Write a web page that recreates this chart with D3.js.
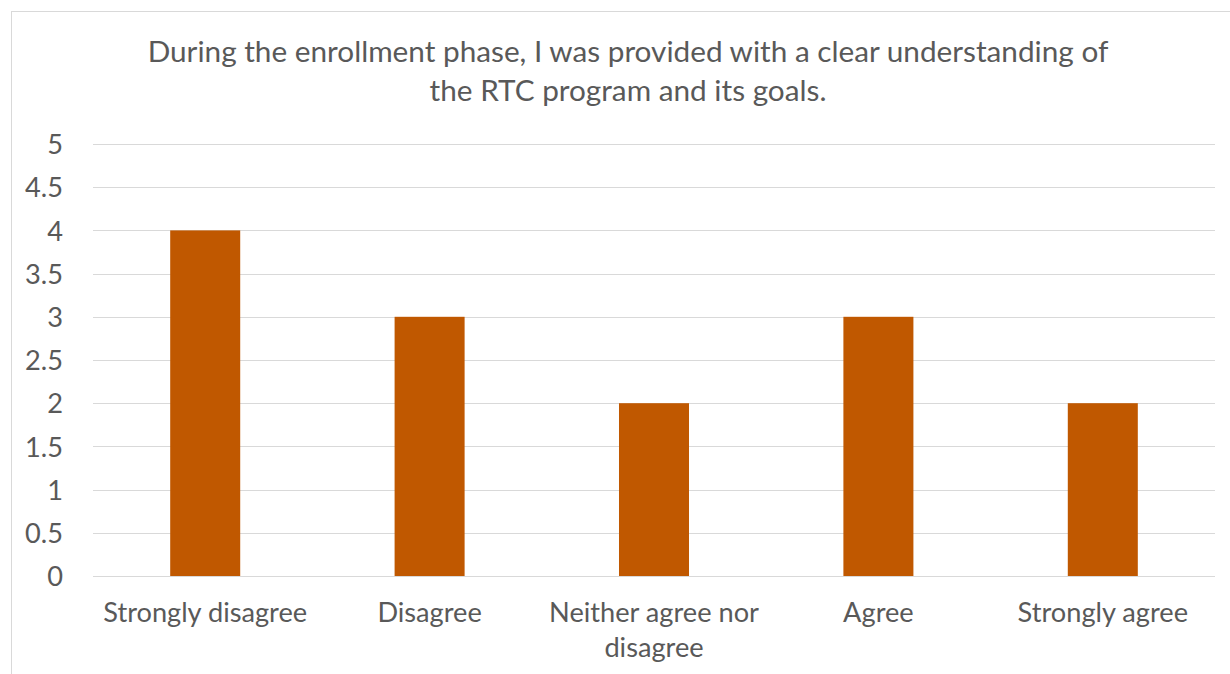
<!DOCTYPE html>
<html>
<head>
<meta charset="utf-8">
<script src="https://cdn.jsdelivr.net/npm/d3@7"></script>
<style>
  html, body { margin: 0; padding: 0; background: #fff; }
  svg { display: block; }
  text { font-family: Lato, "Open Sans", sans-serif; fill: #595959; }
</style>
</head>
<body>
<svg id="chart" width="1230" height="674"></svg>
<script>
// Survey responses: count per answer
const categories = ["Strongly disagree", "Disagree", "Neither agree nor disagree", "Agree", "Strongly agree"];
const counts = [4, 3, 2, 3, 2];
const yTicks = [0, 0.5, 1, 1.5, 2, 2.5, 3, 3.5, 4, 4.5, 5];
const titleLines = [
  "During the enrollment phase, I was provided with a clear understanding of",
  "the RTC program and its goals."
];

const svg = d3.select("#chart");
const W = 1230, H = 674;
const plot = { left: 93, right: 1215, top: 144, bottom: 576 };
const FONT = "Lato, 'Open Sans', sans-serif";

// Font size that makes a sample string span a given width
function fitSize(sample, targetWidth) {
  const probe = svg.append("text").style("font-family", FONT).style("font-size", "20px").text(sample);
  const w = probe.node().getComputedTextLength();
  probe.remove();
  return 20 * targetWidth / w;
}
const titleSize = fitSize(titleLines[0], 961);
const labelSize = fitSize(categories[0], 204);

// Chart frame (extends past the visible window on the right and bottom)
svg.append("rect")
  .attr("x", 11.5).attr("y", 11.5)
  .attr("width", W + 20).attr("height", H + 20)
  .attr("fill", "#fff").attr("stroke", "#d9d9d9").attr("stroke-width", 1);

const x = d3.scaleBand().domain(categories)
  .range([plot.left, plot.right]).paddingInner(0.688).paddingOuter(0.344);
const y = d3.scaleLinear().domain([0, 5]).range([plot.bottom, plot.top]);

// Gridlines
svg.append("g").selectAll("line").data(yTicks).join("line")
  .attr("x1", plot.left).attr("x2", plot.right)
  .attr("y1", d => Math.round(y(d)) + 0.5).attr("y2", d => Math.round(y(d)) + 0.5)
  .attr("stroke", "#d9d9d9").attr("stroke-width", 1);

// Bars
svg.append("g").selectAll("rect").data(counts).join("rect")
  .attr("x", (d, i) => x(categories[i]))
  .attr("width", x.bandwidth())
  .attr("y", d => y(d))
  .attr("height", d => y(0) - y(d))
  .attr("fill", "#c05800");

// Y axis labels
const yAxis = d3.axisLeft(y).tickValues(yTicks).tickSize(0).tickPadding(0)
  .tickFormat(d3.format("~g"));
const gy = svg.append("g").attr("transform", `translate(${plot.left - 30},0)`).call(yAxis);
gy.select(".domain").remove();
gy.selectAll("text").style("font-size", labelSize + "px").attr("fill", "#595959")
  .style("font-family", FONT).attr("dy", "0.36em");

// X axis labels with wrapping inside the category band
const xAxis = d3.axisBottom(x).tickSize(0).tickPadding(0);
const gx = svg.append("g").attr("transform", `translate(0,${plot.bottom})`).call(xAxis);
gx.select(".domain").remove();
gx.selectAll("text")
  .style("font-size", labelSize + "px").style("font-family", FONT)
  .attr("fill", "#595959").attr("y", 0).attr("dy", null)
  .each(function (d) {
    const t = d3.select(this);
    const maxW = x.step() - 10;
    const words = d.split(" ");
    t.text(null);
    let lines = [], line = [];
    const probe = t.append("tspan");
    for (const w of words) {
      line.push(w);
      probe.text(line.join(" "));
      if (probe.node().getComputedTextLength() > maxW && line.length > 1) {
        line.pop();
        lines.push(line.join(" "));
        line = [w];
      }
    }
    lines.push(line.join(" "));
    probe.remove();
    lines.forEach((l, i) => {
      t.append("tspan").attr("x", 0).attr("y", 46 + i * 35).text(l);
    });
  });

// Title
const title = svg.append("text").attr("text-anchor", "middle")
  .style("font-size", titleSize + "px").style("font-family", FONT);
titleLines.forEach((l, i) => {
  title.append("tspan").attr("x", 628).attr("y", 62 + i * 39).text(l);
});
</script>
</body>
</html>
